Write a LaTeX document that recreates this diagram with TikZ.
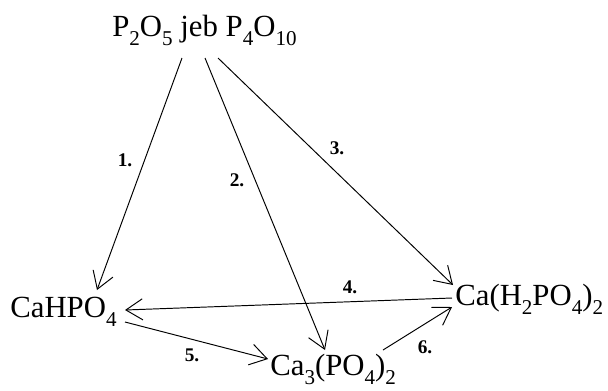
\documentclass[tikz,border=0pt]{standalone}
\usepackage{fontspec}
\setmainfont{Liberation Serif}
\usetikzlibrary{arrows.meta}
\newcommand{\chsb}[1]{\raisebox{-0.7ex}{\fontsize{12}{12}\selectfont #1}}
\begin{document}
\begin{tikzpicture}[x=0.02cm,y=-0.02cm,
  chem/.style={inner sep=0pt,anchor=base west,font=\fontsize{17.5}{20}\selectfont},
  lbl/.style={inner sep=0pt,font=\fontsize{11}{12}\selectfont\bfseries},
  arr/.style={line width=0.55pt,-{Straight Barb[length=9.5pt,width=12pt,line width=0.55pt]}}]
\useasboundingbox (0,0) rectangle (608,390);
\node[chem] (top) at (112,36) {P\chsb{2}O\chsb{5} jeb P\chsb{4}O\chsb{10}};
\node[chem] (cahpo) at (10,317) {CaHPO\chsb{4}};
\node[chem] (ca3) at (270,375) {Ca\chsb{3}(PO\chsb{4})\chsb{2}};
\node[chem] (cah2) at (455,305) {Ca(H\chsb{2}PO\chsb{4})\chsb{2}};
\draw[arr] ([shift={(70,22)}]top.base west) -- ([shift={(87,-27)}]cahpo.base west);
\draw[arr] ([shift={(93,22)}]top.base west) -- ([shift={(55,-25)}]ca3.base west);
\draw[arr] ([shift={(106,22)}]top.base west) -- ([shift={(-2,-20)}]cah2.base west);
\draw[arr] ([shift={(-3,-7)}]cah2.base west) -- ([shift={(115,-7)}]cahpo.base west);
\draw[arr] ([shift={(115,5)}]cahpo.base west) -- ([shift={(-2,-16)}]ca3.base west);
\draw[arr] ([shift={(113,-25)}]ca3.base west) -- ([shift={(-3,2)}]cah2.base west);
\node[lbl] (l1) at (125,160) {1.};
\node[lbl] (l2) at (237,180) {2.};
\node[lbl] (l3) at (337,148) {3.};
\node[lbl] (l4) at (350,287) {4.};
\node[lbl] (l5) at (192,355) {5.};
\node[lbl] (l6) at (425,347) {6.};
\end{tikzpicture}
\end{document}
